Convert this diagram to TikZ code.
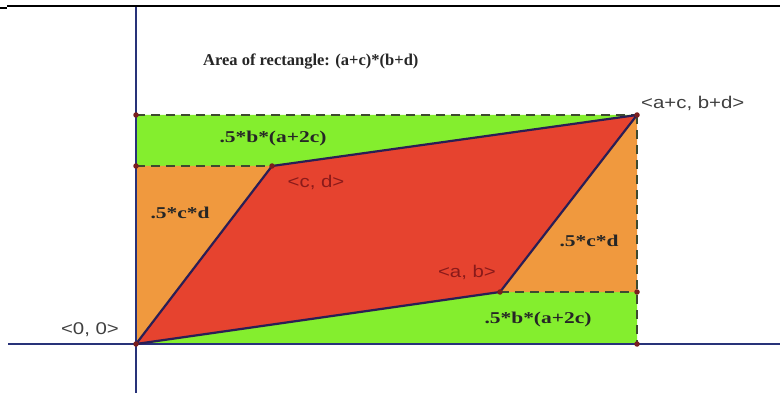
\documentclass[tikz,border=0pt]{standalone}
\usepackage{fontspec}
\setmainfont{Liberation Serif}
\newfontfamily\labfont[FakeStretch=1.2]{Liberation Sans}
\newfontfamily\arfont[FakeStretch=1.3]{Liberation Serif}
\definecolor{gfill}{HTML}{84EE2E}
\definecolor{ofill}{HTML}{F0993E}
\definecolor{rfill}{HTML}{E6432F}
\definecolor{axis}{HTML}{283279}
\definecolor{edge}{HTML}{2A1E55}
\definecolor{dash}{HTML}{3E4A30}
\definecolor{dotc}{HTML}{7A1E1E}
\definecolor{ptlab}{HTML}{8A1A1A}
\tikzset{
  axisline/.style={draw=axis, line width=2pt},
  edgeline/.style={draw=edge, line width=2.2pt, line join=round},
  guide/.style={draw=dash, line width=1.4pt, dash pattern=on 9pt off 6pt},
  pt/.style={circle, fill=dotc, inner sep=0pt, minimum size=5.5pt},
  arealab/.style={font=\arfont\bfseries\fontsize{16.5}{18}\selectfont, text=black!85, inner sep=0pt},
  ptlabel/.style={font=\labfont\fontsize{17}{19}\selectfont, inner sep=0pt},
  titlelab/.style={font=\bfseries\fontsize{16.5}{19}\selectfont, text=black!85, inner sep=0pt, anchor=west}
}
\begin{document}
\begin{tikzpicture}[x=1pt,y=-1pt]
\useasboundingbox (0,0) rectangle (780,393);
\fill[white] (0,0) rectangle (780,393);
% points
\coordinate (O) at (136,344);
\coordinate (CD) at (272,166);
\coordinate (AC) at (637,115);
\coordinate (AB) at (500,292);
\coordinate (TL) at (136,115);
\coordinate (ML) at (136,166);
\coordinate (RM) at (637,292);
\coordinate (BR) at (637,344);
% regions
\fill[gfill] (TL) -- (AC) -- (CD) -- (ML) -- cycle;
\fill[gfill] (O) -- (AB) -- (RM) -- (BR) -- cycle;
\fill[ofill] (ML) -- (CD) -- (O) -- cycle;
\fill[ofill] (AC) -- (RM) -- (AB) -- cycle;
\fill[rfill] (O) -- (CD) -- (AC) -- (AB) -- cycle;
% guides
\draw[guide] (TL) -- (AC);
\draw[guide] (ML) -- (CD);
\draw[guide] (AB) -- (RM);
\draw[guide] (AC) -- (BR);
% top rule
\coordinate (R1) at (7,6);
\coordinate (R2) at (780,6);
\draw[black, line width=2pt] (R1) -- (R2);
\coordinate (S1) at (0,8);
\coordinate (S2) at (7,8);
\draw[black, line width=2pt] (S1) -- (S2);
% axes
\coordinate (YA) at (136,7);
\coordinate (YB) at (136,393);
\coordinate (XA) at (8,344);
\coordinate (XB) at (780,344);
\draw[axisline] (YA) -- (YB);
\draw[axisline] (XA) -- (XB);
% parallelogram
\draw[edgeline] (O) -- (CD) -- (AC) -- (AB) -- cycle;
% dots
\foreach \p in {O,CD,AC,AB,TL,ML,RM,BR} \node[pt] at (\p) {};
% texts
\node[titlelab] (title) at (203,62) {Area of rectangle: (a+c)*(b+d)};
\node[arealab] (g1) at (273,139) {.5*b*(a+2c)};
\node[arealab] (g2) at (538,320) {.5*b*(a+2c)};
\node[arealab] (o1) at (180,213) {.5*c*d};
\node[arealab] (o2) at (589,241) {.5*c*d};
\node[ptlabel, text=ptlab] (lcd) at (316,182) {<c, d>};
\node[ptlabel, text=ptlab] (lab) at (467,272) {<a, b>};
\node[ptlabel, text=black!75, anchor=west] (lac) at (641,103) {<a+c, b+d>};
\node[ptlabel, text=black!75] (l00) at (90,330) {<0, 0>};
\end{tikzpicture}
\end{document}
